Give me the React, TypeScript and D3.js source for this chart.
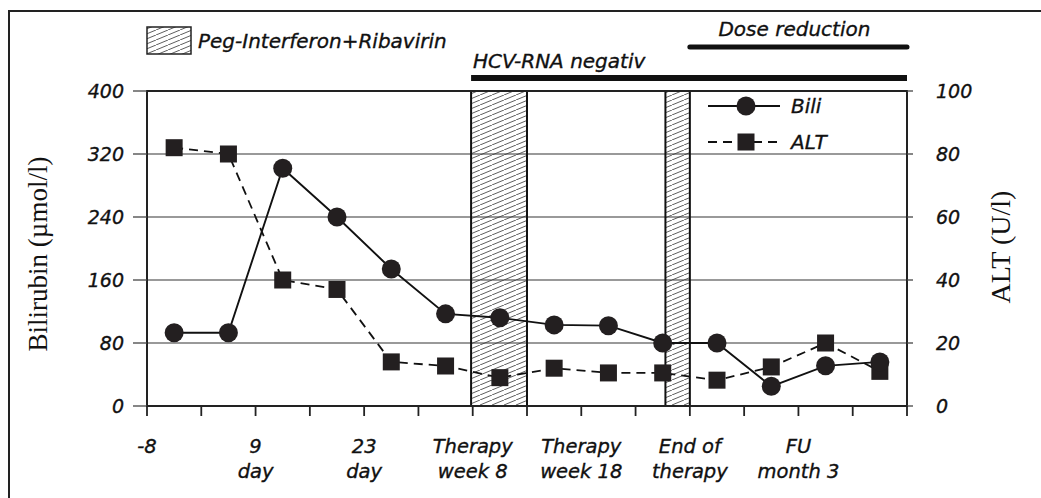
import React from "react";
import * as d3 from "d3";

// time slots (bottom axis runs 0..14, one unit per visit slot)
const tickValues = d3.range(0, 15);
const labelPositions = [0, 2, 4, 6, 8, 10, 12];
const labelLines = [
  ["-8"],
  ["9", "day"],
  ["23", "day"],
  ["Therapy", "week 8"],
  ["Therapy", "week 18"],
  ["End of", "therapy"],
  ["FU", "month 3"],
];

// measurements, one per slot (drawn at slot centre)
const bili = [93, 93, 302, 240, 174, 117, 112, 103, 102, 80, 80, 25, 51, 56];
const alt = [82, 80, 40, 37, 14, 12.7, 9, 12, 10.5, 10.5, 8.2, 12.4, 20, 11];

const leftTicks = [0, 80, 160, 240, 320, 400];
const rightTicks = [0, 20, 40, 60, 80, 100];

// therapy periods (hatched) and annotation bars, in slot units
const therapyStart = [5.97, 9.55];
const therapyEnd = [7.0, 10.0];
const hcvNegative = [5.97, 14];
const doseReduction = [10, 14];

const W = 1041;
const H = 498;
const margin = { left: 147, right: 907, top: 91, bottom: 406 };
const FONT = "'DejaVu Sans', Verdana, sans-serif";
const SERIF = "'Liberation Serif', 'Times New Roman', serif";

// shared italic label style, slightly thickened like the original
const lab = {
  fontFamily: FONT,
  fontStyle: "italic",
  fill: "#111",
  stroke: "#111",
  strokeWidth: 0.35,
} as const;

export default function App() {
  const x = d3.scaleLinear().domain([0, 14]).range([margin.left, margin.right]);
  const yL = d3.scaleLinear().domain([0, 400]).range([margin.bottom, margin.top]);
  const yR = d3.scaleLinear().domain([0, 100]).range([margin.bottom, margin.top]);

  const biliLine = d3
    .line<number>()
    .x((_, i) => x(i + 0.5))
    .y((d) => yL(d));
  const altLine = d3
    .line<number>()
    .x((_, i) => x(i + 0.5))
    .y((d) => yR(d));

  const sq = 17;

  return (
    <svg
      width={W}
      height={H}
      style={{ position: "absolute", left: 0, top: 0, background: "#fff" }}
    >
      <defs>
        <pattern id="hatch" patternUnits="userSpaceOnUse" width="12" height="5">
          <path d="M0,5 L12,0 M-12,5 L0,0 M12,5 L24,0" stroke="#333" strokeWidth="0.8" />
        </pattern>
      </defs>

      {/* outer frame: top and left only */}
      <line x1={9} x2={W} y1={11} y2={11} stroke="#222" strokeWidth={2} />
      <line x1={9} x2={9} y1={10} y2={H} stroke="#222" strokeWidth={2} />

      {/* therapy legend */}
      <rect x={147} y={27} width={44} height={27} fill="url(#hatch)" stroke="#222" strokeWidth={1.5} />
      <text x={198} y={48} {...lab} fontSize={20}>
        Peg-Interferon+Ribavirin
      </text>

      {/* annotation bars */}
      <text x={x(hcvNegative[0]) + 2} y={68} {...lab} fontSize={20}>
        HCV-RNA negativ
      </text>
      <line x1={x(hcvNegative[0])} x2={x(hcvNegative[1])} y1={78} y2={78} stroke="#111" strokeWidth={6} />
      <text
        x={(x(doseReduction[0]) + x(doseReduction[1])) / 2 - 4}
        y={36}
        textAnchor="middle"
        {...lab}
        fontSize={20}
      >
        Dose reduction
      </text>
      <line
        x1={x(doseReduction[0])}
        x2={x(doseReduction[1])}
        y1={47}
        y2={47}
        stroke="#111"
        strokeWidth={5}
        strokeLinecap="round"
      />

      {/* gridlines */}
      {leftTicks
        .filter((t) => t > 0 && t < 400)
        .map((t) => (
          <line key={t} x1={margin.left} x2={margin.right} y1={yL(t)} y2={yL(t)} stroke="#777" strokeWidth={1.3} />
        ))}

      {/* therapy periods */}
      {therapyStart.map((s, i) => (
        <rect
          key={i}
          x={x(s)}
          y={margin.top}
          width={x(therapyEnd[i]) - x(s)}
          height={margin.bottom - margin.top}
          fill="url(#hatch)"
          stroke="#111"
          strokeWidth={2}
        />
      ))}

      {/* plot frame */}
      <rect
        x={margin.left}
        y={margin.top}
        width={margin.right - margin.left}
        height={margin.bottom - margin.top}
        fill="none"
        stroke="#222"
        strokeWidth={2}
      />

      {/* left axis */}
      {leftTicks.map((t) => (
        <g key={t}>
          <line x1={133} x2={margin.left} y1={yL(t)} y2={yL(t)} stroke="#444" strokeWidth={1.3} />
          <text x={124} y={yL(t)} dy="0.36em" textAnchor="end" {...lab} fontSize={19}>
            {t}
          </text>
        </g>
      ))}

      {/* right axis */}
      {rightTicks.map((t) => (
        <g key={t}>
          <line x1={margin.right} x2={913} y1={yR(t)} y2={yR(t)} stroke="#444" strokeWidth={1.3} />
          <text x={936} y={yR(t)} dy="0.36em" {...lab} fontSize={19}>
            {t}
          </text>
        </g>
      ))}

      {/* bottom axis */}
      {tickValues.map((t) => (
        <line key={t} x1={x(t)} x2={x(t)} y1={margin.bottom} y2={margin.bottom + 10} stroke="#222" strokeWidth={1.8} />
      ))}
      {labelPositions.map((p, i) => (
        <text key={p} x={x(p)} textAnchor="middle" {...lab} fontSize={19.5}>
          {labelLines[i].map((l, j) => (
            <tspan key={j} x={x(p)} y={453 + j * 25}>
              {l}
            </tspan>
          ))}
        </text>
      ))}

      {/* axis titles */}
      <text
        transform={`translate(47,254) rotate(-90)`}
        textAnchor="middle"
        fontFamily={SERIF}
        fontSize={27}
        fill="#111"
      >
        Bilirubin (µmol/l)
      </text>
      <text
        transform={`translate(1010,247) rotate(-90)`}
        textAnchor="middle"
        fontFamily={SERIF}
        fontSize={28}
        fill="#111"
      >
        ALT (U/l)
      </text>

      {/* series */}
      <path d={altLine(alt) || ""} fill="none" stroke="#111" strokeWidth={1.8} strokeDasharray="9,6" />
      <path d={biliLine(bili) || ""} fill="none" stroke="#111" strokeWidth={1.9} />
      {alt.map((v, i) => (
        <rect key={i} x={x(i + 0.5) - sq / 2} y={yR(v) - sq / 2} width={sq} height={sq} fill="#231f20" />
      ))}
      {bili.map((v, i) => (
        <circle key={i} cx={x(i + 0.5)} cy={yL(v)} r={9.5} fill="#231f20" />
      ))}

      {/* series legend */}
      <line x1={708} x2={780} y1={106} y2={106} stroke="#111" strokeWidth={1.9} />
      <circle cx={746} cy={106} r={9.5} fill="#231f20" />
      <text x={791} y={113} {...lab} fontSize={20}>
        Bili
      </text>
      <line x1={708} x2={782} y1={142} y2={142} stroke="#111" strokeWidth={1.8} strokeDasharray="9,6" />
      <rect x={746 - sq / 2} y={142 - sq / 2} width={sq} height={sq} fill="#231f20" />
      <text x={791} y={149} {...lab} fontSize={20}>
        ALT
      </text>
    </svg>
  );
}
